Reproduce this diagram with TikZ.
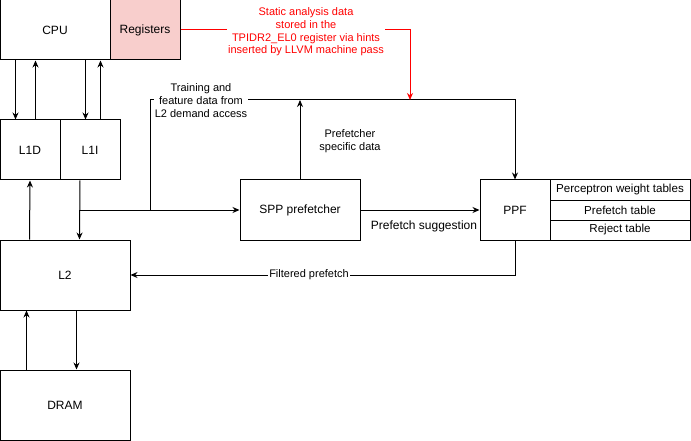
\documentclass[tikz,border=0pt]{standalone}
\usepackage{fontspec}
\setmainfont{Liberation Sans}
\usetikzlibrary{positioning,calc,arrows.meta}
\definecolor{regpink}{HTML}{F8CECC}
\definecolor{notered}{HTML}{FF0000}

\begin{document}
\begin{tikzpicture}[x=1pt,y=-1pt,line width=1pt,
    blk/.style={draw, inner sep=0pt, font=\fontsize{12}{14}\selectfont},
    tbl/.style={draw, inner sep=0pt, minimum width=140pt, minimum height=20pt, font=\fontsize{11.6}{13}\selectfont},
    arr/.style={-{Stealth[length=7pt,width=6pt]}},
    lbl/.style={inner sep=1pt, align=center, font=\fontsize{11}{13}\selectfont}]

    \useasboundingbox (0,0) rectangle (691,441);

    % Core and caches
    \node[blk, minimum width=110pt, minimum height=60pt] (cpu) at (55,30) {CPU};
    \node[blk, fill=regpink, minimum width=70pt, minimum height=60pt] (reg) at (145,30) {Registers};
    \node[blk, minimum width=60pt, minimum height=60pt] (l1d) at (30,150) {L1D};
    \node[blk, minimum width=60pt, minimum height=60pt] (l1i) at (90,150) {L1I};
    \node[blk, minimum width=130pt, minimum height=70pt] (l2) at (65,275) {L2};
    \node[blk, minimum width=130pt, minimum height=70pt] (dram) at (65,405) {DRAM};

    % Prefetchers
    \node[blk, minimum width=120pt, minimum height=60pt] (spp) at (300,210) {SPP prefetcher};
    \node[blk, minimum width=70pt, minimum height=60pt] (ppf) at (515,210) {PPF};
    \node[tbl] (pwt) at (620,190) {Perceptron weight tables};
    \node[tbl] (pft) at (620,210) {Prefetch table};
    \node[tbl] (rjt) at (620,230) {Reject table};

    % CPU <-> L1
    \draw[arr] ([xshift=16pt]cpu.south west) -- ([xshift=16pt]l1d.north west);
    \draw[arr] ([xshift=36pt]l1d.north west) -- ([xshift=36pt]cpu.south west);
    \draw[arr] ([xshift=86pt]cpu.south west) -- ([xshift=26pt]l1i.north west);
    \draw[arr] ([xshift=41pt]l1i.north west) -- ([xshift=101pt]cpu.south west);

    % L1 <-> L2 <-> DRAM
    \draw[arr] ([xshift=30pt]l2.north west) -- (l1d.south);
    \draw[arr] ([xshift=-10pt]l1i.south) -- ([xshift=80pt]l2.north west);
    \draw[arr] ([xshift=27pt]dram.north west) -- ([xshift=27pt]l2.south west);
    \draw[arr] ([xshift=77pt]l2.south west) -- ([xshift=77pt]dram.north west);

    % Training path
    \coordinate (tap) at (80,210);
    \coordinate (fork) at (150,210);
    \coordinate (bus) at (515,100);
    \draw[arr] (tap) -- (spp.west);
    \draw[arr] (fork) |- (bus) -- (ppf.north);
    \draw[arr] (spp.north) -- (spp.north |- bus);
    \node[lbl, fill=white] (trainlbl) at (201,101) {Training and\\feature data from\\L2 demand access};
    \node[lbl] (speclbl) at (350,141) {Prefetcher\\specific data};

    % Suggestions and filtered prefetches
    \draw[arr] (spp.east) -- (ppf.west);
    \node[lbl, font=\fontsize{12}{14}\selectfont] (suglbl) at (424,226) {Prefetch suggestion};
    \draw[arr] (ppf.south) |- (l2.east);
    \node[lbl, fill=white] (filtlbl) at (309,275) {Filtered prefetch};

    % Hints from registers
    \coordinate (hint) at (410,100);
    \draw[arr, notered] (reg.east) -| (hint);
    \node[lbl, fill=white, text=notered, font=\fontsize{11}{12.7}\selectfont] (hintlbl) at (306,32)
        {Static analysis data\\stored in the\\TPIDR2\_EL0 register via hints\\inserted by LLVM machine pass};

\end{tikzpicture}
\end{document}
